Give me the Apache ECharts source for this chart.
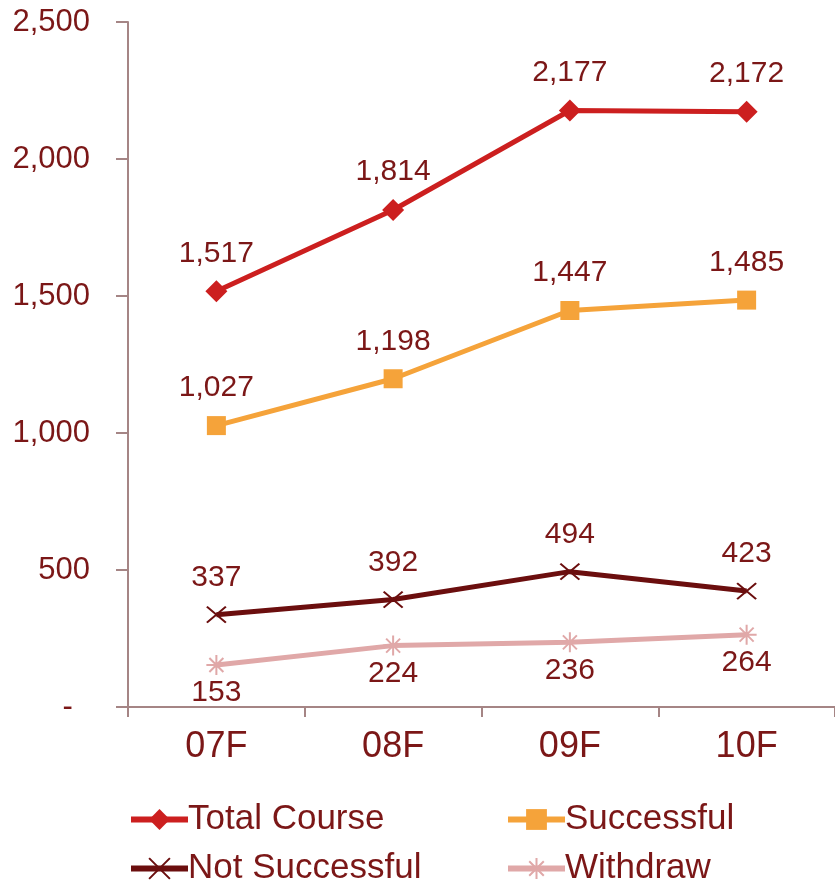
<!DOCTYPE html>
<html>
<head>
<meta charset="utf-8">
<script src="https://cdn.jsdelivr.net/npm/echarts@6/dist/echarts.min.js"></script>
<style>
    html, body { margin: 0; padding: 0; background: #fff; }
    #container { width: 835px; height: 883px; }
</style>
</head>
<body>
<div id="container"></div>
<script>
var terms = ['07F', '08F', '09F', '10F'];
var totalCourse = [1517, 1814, 2177, 2172];
var successful = [1027, 1198, 1447, 1485];
var notSuccessful = [337, 392, 494, 423];
var withdraw = [153, 224, 236, 264];
var yTicks = [0, 500, 1000, 1500, 2000, 2500];

var textColor = '#7b1717';
var axisColor = '#a58585';
var font = '"Liberation Sans", Arial, sans-serif';

var xPath = 'path://M0,0L10,8M10,0L0,8';
var starPath = 'path://M5,0L5,10M0,5L10,5M1.5,1.5L8.5,8.5M8.5,1.5L1.5,8.5';

function fmt(v) {
    if (v === 0) return '-  ';
    return v.toLocaleString('en-US');
}

function makeSeries(name, data, color, symbol, size, pos, dist, openSymbol) {
    return {
        name: name,
        type: 'line',
        data: data,
        symbol: symbol,
        symbolSize: size,
        lineStyle: { color: color, width: 5 },
        itemStyle: openSymbol ? { color: color, borderColor: color, borderWidth: 2 } : { color: color },
        label: {
            show: true,
            position: pos,
            distance: dist,
            color: textColor,
            fontFamily: font,
            fontSize: 30,
            formatter: function (p) { return fmt(p.value); }
        },
        emphasis: { disabled: true },
        animation: false
    };
}

function oneLegend(name, left, top) {
    return {
        data: [name],
        left: left,
        top: top,
        itemWidth: 57,
        itemHeight: 26,
        itemGap: 0,
        padding: 0,
        lineStyle: { width: 6 },
        textStyle: { color: textColor, fontFamily: font, fontSize: 35, padding: [0, 0, 0, -5] }
    };
}

var myChart = echarts.init(document.getElementById('container'));
var option = {
    backgroundColor: '#fff',
    grid: { left: 128, right: 0, top: 22, bottom: 176, containLabel: false },
    legend: [
        oneLegend('Total Course', 128, 802),
        oneLegend('Successful', 505, 802),
        oneLegend('Not Successful', 128, 851),
        oneLegend('Withdraw', 505, 851)
    ],
    xAxis: {
        type: 'category',
        data: terms,
        boundaryGap: true,
        axisLine: { lineStyle: { color: axisColor, width: 2 } },
        axisTick: { show: true, length: 10, lineStyle: { color: axisColor, width: 2 } },
        axisLabel: { color: textColor, fontFamily: font, fontSize: 36, margin: 22 }
    },
    yAxis: {
        type: 'value',
        min: yTicks[0],
        max: yTicks[yTicks.length - 1],
        interval: 500,
        splitLine: { show: false },
        axisLine: { show: true, lineStyle: { color: axisColor, width: 2 } },
        axisTick: { show: true, length: 12, lineStyle: { color: axisColor, width: 2 } },
        axisLabel: {
            color: textColor,
            fontFamily: font,
            fontSize: 31,
            margin: 38,
            formatter: fmt
        }
    },
    series: [
        makeSeries('Total Course', totalCourse, '#cc1f1f', 'diamond', 22, 'top', 12, false),
        makeSeries('Successful', successful, '#f5a33a', 'rect', 19, 'top', 13, false),
        makeSeries('Not Successful', notSuccessful, '#6b0e0e', xPath, [19, 16], 'top', 13, true),
        makeSeries('Withdraw', withdraw, '#e0a8a8', starPath, 20, 'bottom', 2, true)
    ]
};
myChart.setOption(option);
</script>
</body>
</html>
